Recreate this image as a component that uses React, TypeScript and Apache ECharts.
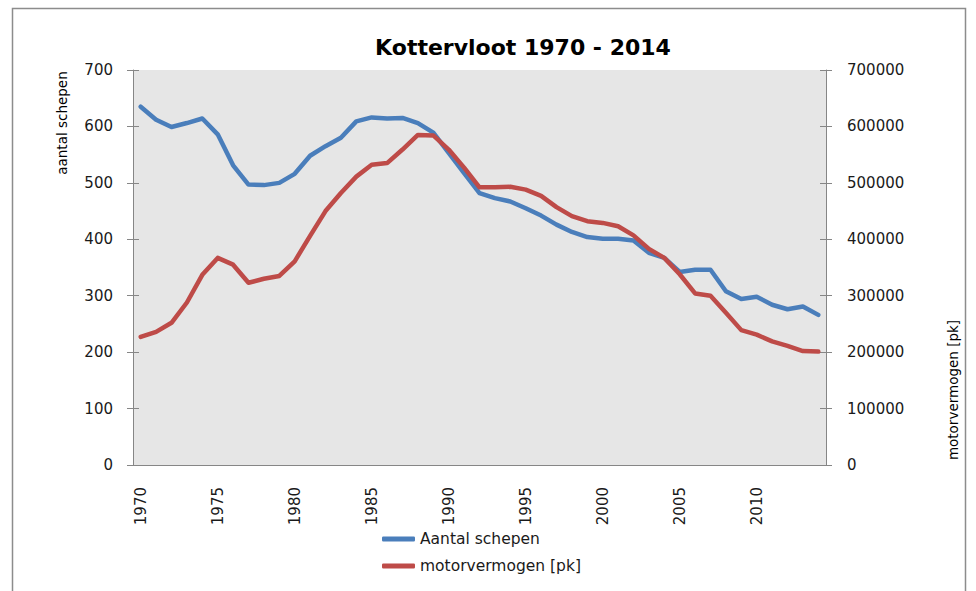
import React, { useEffect, useRef } from "react";
import * as echarts from "echarts";

const years = [
  "1970", "1971", "1972", "1973", "1974", "1975", "1976", "1977", "1978", "1979",
  "1980", "1981", "1982", "1983", "1984", "1985", "1986", "1987", "1988", "1989",
  "1990", "1991", "1992", "1993", "1994", "1995", "1996", "1997", "1998", "1999",
  "2000", "2001", "2002", "2003", "2004", "2005", "2006", "2007", "2008", "2009",
  "2010", "2011", "2012", "2013", "2014",
];

const aantalSchepen = [
  635, 612, 599, 606, 614, 586, 531, 497, 496, 500,
  516, 548, 565, 580, 609, 616, 614, 615, 606, 589,
  553, 517, 482, 473, 467, 455, 442, 426, 413, 404,
  401, 401, 398, 376, 367, 342, 346, 346, 308, 294,
  298, 284, 276, 281, 266,
];

const motorvermogen = [
  227000, 236000, 252000, 288000, 337000, 367000, 355000, 323000, 330000, 335000,
  361000, 406000, 450000, 482000, 511000, 532000, 535000, 559000, 585000, 584000,
  559000, 527000, 492000, 492000, 493000, 488000, 477000, 457000, 441000, 432000,
  429000, 423000, 407000, 383000, 367000, 338000, 304000, 300000, 270000, 239000,
  231000, 219000, 211000, 202000, 201000,
];

const seriesNames = ["Aantal schepen", "motorvermogen [pk]"];
const titleText = "Kottervloot 1970 - 2014";
const leftAxisTitle = "aantal schepen";
const rightAxisTitle = "motorvermogen [pk]";

const FONT = "DejaVu Sans";
const AXIS_COLOR = "#868686";
const TEXT_COLOR = "#1a1a1a";

export default function App() {
  const ref = useRef<HTMLDivElement>(null);

  useEffect(() => {
    if (!ref.current) return;
    const chart = echarts.init(ref.current, undefined, { renderer: "svg" });

    const yCommon = (min: number, max: number, interval: number) => ({
      type: "value",
      min,
      max,
      interval,
      splitLine: { show: false },
    });

    chart.setOption({
      animation: false,
      backgroundColor: "#ffffff",
      textStyle: { fontFamily: FONT },
      grid: {
        left: 133,
        right: 150,
        top: 70,
        bottom: 126,
        show: true,
        backgroundColor: "#E6E6E6",
        borderWidth: 0,
      },
      legend: {
        orient: "vertical",
        left: 382,
        top: 530,
        padding: 0,
        itemWidth: 33,
        itemHeight: 5,
        itemGap: 9,
        icon: "roundRect",
        data: seriesNames,
        textStyle: { fontSize: 15.5, color: TEXT_COLOR, fontFamily: FONT, lineHeight: 18 },
      },
      xAxis: [
        {
          type: "category",
          data: years,
          boundaryGap: true,
          axisLine: { lineStyle: { color: AXIS_COLOR, width: 1 } },
          axisTick: { interval: 0, length: 5, lineStyle: { color: AXIS_COLOR } },
          axisLabel: {
            interval: 4,
            rotate: 90,
            margin: 22,
            color: TEXT_COLOR,
            fontSize: 15,
            fontFamily: FONT,
          },
          splitLine: { show: false },
        },
        {
          type: "category",
          data: years,
          position: "bottom",
          boundaryGap: true,
          axisLine: { show: false },
          axisTick: { inside: true, interval: 0, length: 5, lineStyle: { color: AXIS_COLOR } },
          axisLabel: { show: false },
          splitLine: { show: false },
        },
      ],
      yAxis: [
        {
          ...yCommon(0, 700, 100),
          position: "left",
          axisLine: { show: true, lineStyle: { color: AXIS_COLOR } },
          axisTick: { show: true, length: 6, lineStyle: { color: AXIS_COLOR } },
          axisLabel: { margin: 20, color: TEXT_COLOR, fontSize: 15, fontFamily: FONT },
        },
        {
          ...yCommon(0, 700000, 100000),
          position: "right",
          axisLine: { show: true, lineStyle: { color: AXIS_COLOR } },
          axisTick: { show: true, length: 6, lineStyle: { color: AXIS_COLOR } },
          axisLabel: {
            margin: 21,
            color: TEXT_COLOR,
            fontSize: 15,
            fontFamily: FONT,
            formatter: (v: number) => String(v),
          },
        },
        {
          ...yCommon(0, 700, 100),
          position: "left",
          axisLine: { show: false },
          axisTick: { show: true, inside: true, length: 6, lineStyle: { color: AXIS_COLOR } },
          axisLabel: { show: false },
        },
        {
          ...yCommon(0, 700000, 100000),
          position: "right",
          axisLine: { show: false },
          axisTick: { show: true, inside: true, length: 6, lineStyle: { color: AXIS_COLOR } },
          axisLabel: { show: false },
        },
      ],
      series: [
        {
          name: seriesNames[0],
          type: "line",
          xAxisIndex: 0,
          yAxisIndex: 0,
          data: aantalSchepen,
          symbol: "none",
          color: "#4A7EBB",
          lineStyle: { width: 4.5, color: "#4A7EBB", cap: "round", join: "round" },
          z: 3,
        },
        {
          name: seriesNames[1],
          type: "line",
          xAxisIndex: 0,
          yAxisIndex: 1,
          data: motorvermogen,
          symbol: "none",
          color: "#BE4B48",
          lineStyle: { width: 4.5, color: "#BE4B48", cap: "round", join: "round" },
          z: 4,
        },
      ],
      graphic: [
        {
          type: "rect",
          silent: true,
          shape: { x: 12.5, y: 8.5, width: 953, height: 700 },
          style: { fill: "none", stroke: "#8c8c8c", lineWidth: 1.5 },
          z: 100,
        },
        {
          type: "text",
          x: 523,
          y: 47,
          style: {
            text: titleText,
            align: "center",
            verticalAlign: "middle",
            fontSize: 22,
            fontWeight: "bold",
            fontFamily: FONT,
            fill: "#000000",
          },
        },
        {
          type: "text",
          x: 62,
          y: 123,
          rotation: Math.PI / 2,
          style: {
            text: leftAxisTitle,
            align: "center",
            verticalAlign: "middle",
            fontSize: 13.5,
            fontFamily: FONT,
            fill: "#000000",
          },
        },
        {
          type: "text",
          x: 953,
          y: 390,
          rotation: Math.PI / 2,
          style: {
            text: rightAxisTitle,
            align: "center",
            verticalAlign: "middle",
            fontSize: 13.5,
            fontFamily: FONT,
            fill: "#000000",
          },
        },
      ],
    });

    return () => {
      chart.dispose();
    };
  }, []);

  return (
    <div
      ref={ref}
      style={{ position: "fixed", left: 0, top: 0, width: 976, height: 591, background: "#fff" }}
    />
  );
}
